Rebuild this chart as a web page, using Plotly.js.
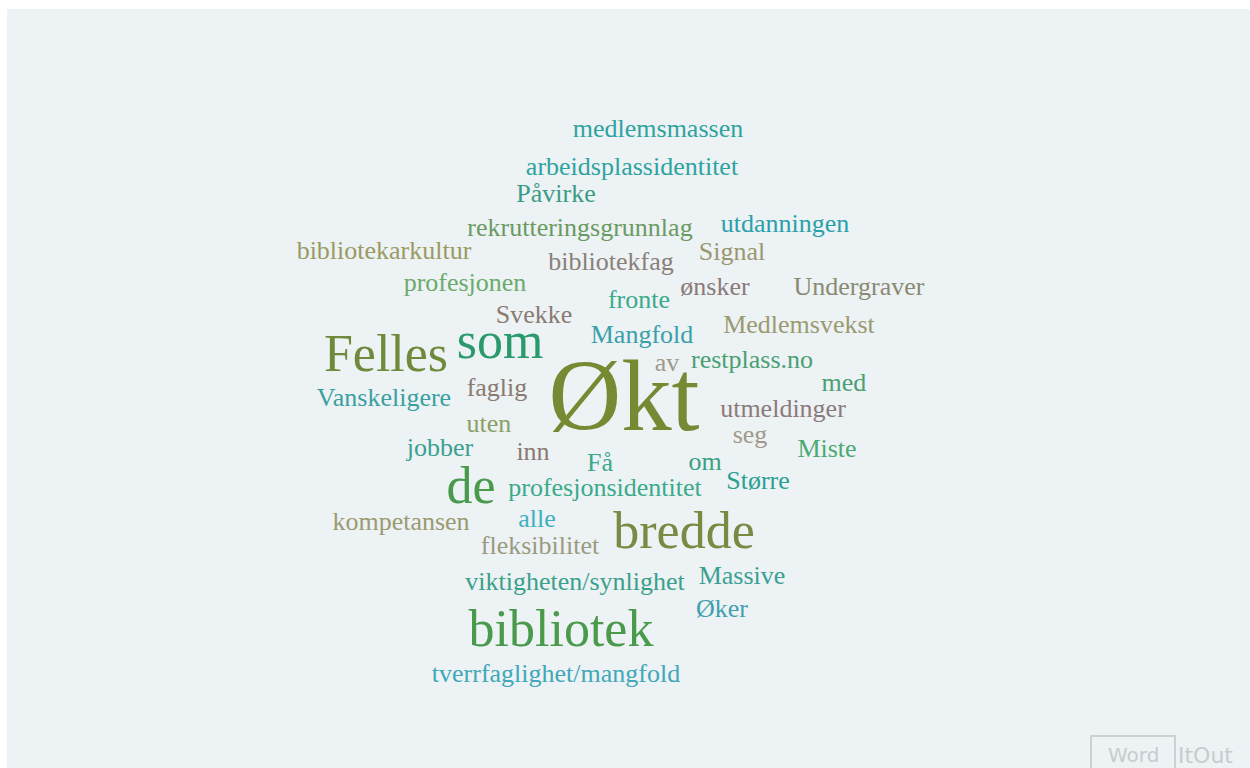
<!DOCTYPE html>
<html>
<head>
<meta charset="utf-8">
<script src="https://cdn.plot.ly/plotly-3.0.1.min.js"></script>
<style>html,body{margin:0;padding:0;background:#fff;}#chart{width:1250px;height:768px;}</style>
</head>
<body>
<div id="chart"></div>
<script>
// Data: words and their weights (relative frequency)
const words = ["medlemsmassen","arbeidsplassidentitet","Påvirke","rekrutteringsgrunnlag","utdanningen",
  "bibliotekarkultur","Signal","bibliotekfag","profesjonen","ønsker","Undergraver","fronte","Svekke",
  "Medlemsvekst","Felles","som","Mangfold","av","restplass.no","med","Økt","faglig","Vanskeligere",
  "utmeldinger","uten","seg","jobber","inn","Miste","Få","om","de","profesjonsidentitet","Større",
  "alle","kompetansen","bredde","fleksibilitet","viktigheten/synlighet","Massive","Øker","bibliotek",
  "tverrfaglighet/mangfold"];
const weights = [1,1,1,1,1, 1,1,1,1,1,1,1,1, 1,4,4,1,1,1,1,15,1,1, 1,1,1,1,1,1,1,1,4,1,1, 1,1,4,1,1,1,1,4, 1];

// Layout of the cloud (pixel centres of each word)
const posX = [658,632,556,580,785, 384,732,611,465,715,859,639,534, 799,386,500,642,667,752,844,624,497,384, 783,489,750,440,533,827,600,705,471,605,758, 537,401,684,540,575,742,722,561, 556];
const posY = [130,168,195,229,225, 252,253,263,284,288,288,301,316, 326,358,345,336,364,361,384,405,389,399, 410,425,436,449,453,450,464,463,490,489,482, 520,523,535,547,583,577,610,633, 675];

// Styles
const wordColors = ["#2ea39f","#2ea39f","#3a9c86","#6a9a62","#2aa0aa",
  "#9a9a62","#9a9870","#8a8078","#6aaa6a","#8a7a78","#8a8a72","#3aaa8a","#8a7a72",
  "#9a9a70","#708a3c","#2a9a6c","#3aa0aa","#a09a8a","#4aa072","#4aa072","#778a33","#8a7a70","#3aa0a0",
  "#8a7a7a","#8aa062","#a09a8a","#3aa092","#8a7a72","#4aaa72","#3aa88a","#3aa082","#4a9a4c","#3aaa8a","#2aa092",
  "#40b0c0","#9a9a70","#7a8a42","#9a9a80","#3aa08a","#3aa092","#40a0b0","#4a9a4c",
  "#40a8b8"];
const sizeOf = w => 26 * Math.sqrt(w);

const trace = {
  type: "scatter",
  mode: "text",
  x: posX,
  y: posY,
  text: words,
  textposition: "middle center",
  textfont: {
    family: "Liberation Serif, Times New Roman, serif",
    size: weights.map(sizeOf),
    color: wordColors
  },
  hoverinfo: "text",
  showlegend: false
};

const layout = {
  width: 1250, height: 768,
  margin: {l: 0, r: 0, t: 0, b: 0},
  paper_bgcolor: "#ffffff",
  plot_bgcolor: "rgba(0,0,0,0)",
  xaxis: {range: [0, 1250], visible: false, fixedrange: true},
  yaxis: {range: [768, 0], visible: false, fixedrange: true},
  shapes: [{
    type: "rect", xref: "paper", yref: "paper",
    x0: 7/1250, x1: 1, y0: 0, y1: 1 - 9/768,
    fillcolor: "#edf2f5", line: {width: 0}, layer: "below"
  },{
    type: "rect", xref: "paper", yref: "paper",
    x0: 1091/1250, x1: 1175/1250, y0: 1 - 770/768, y1: 1 - 736/768,
    line: {color: "#cdd1d4", width: 2}, fillcolor: "rgba(0,0,0,0)", layer: "above"
  }],
  annotations: [
    {xref: "paper", yref: "paper", x: 1133/1250, y: 1 - 755/768, xanchor: "center", yanchor: "middle",
     text: "Word", showarrow: false, font: {family: "DejaVu Sans, sans-serif", size: 20, color: "#c8ccce"}},
    {xref: "paper", yref: "paper", x: 1176/1250, y: 1 - 755/768, xanchor: "left", yanchor: "middle",
     text: "ItOut", showarrow: false, font: {family: "DejaVu Sans, sans-serif", size: 22, color: "#c8ccce"}}
  ]
};

Plotly.newPlot("chart", [trace], layout, {displayModeBar: false, staticPlot: true});
</script>
</body>
</html>
